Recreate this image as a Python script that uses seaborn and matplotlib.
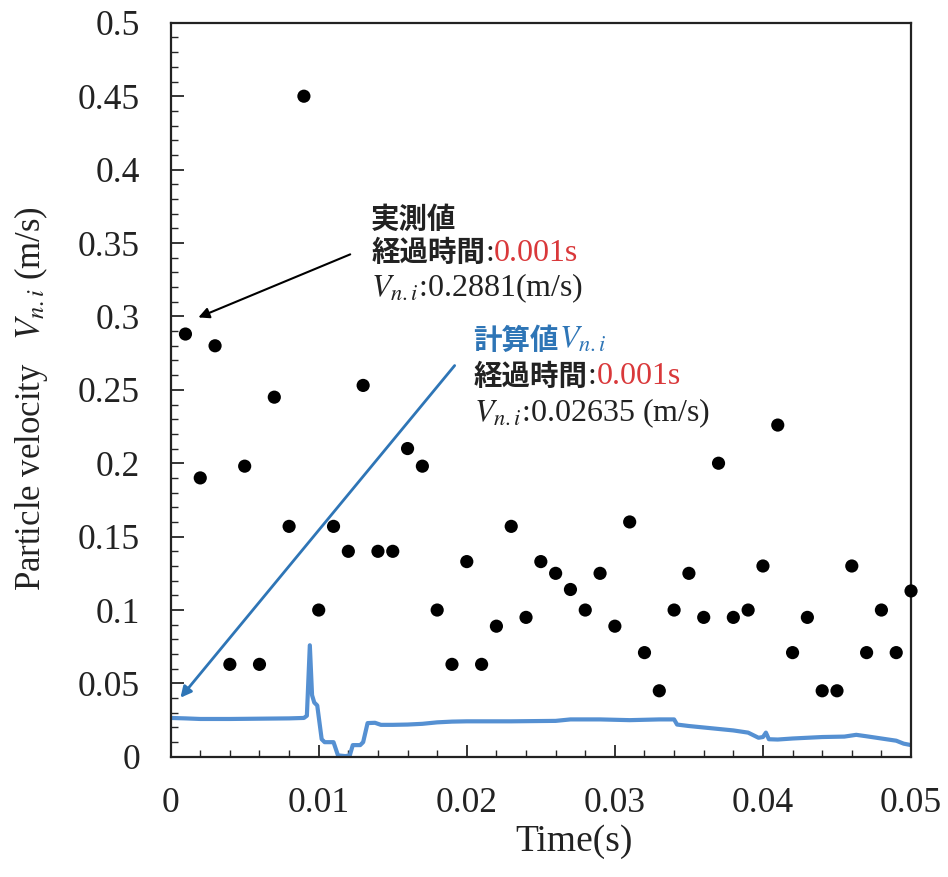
import numpy as np
import pandas as pd
import matplotlib
matplotlib.use("Agg")
import matplotlib.pyplot as plt
import seaborn as sns
from matplotlib.ticker import MultipleLocator, FuncFormatter

# measured particle velocity (black dots), every 1 ms
meas_t = [0.001, 0.002, 0.003, 0.004, 0.005, 0.006, 0.007, 0.008, 0.009, 0.010,
          0.011, 0.012, 0.013, 0.014, 0.015, 0.016, 0.017, 0.018, 0.019, 0.020,
          0.021, 0.022, 0.023, 0.024, 0.025, 0.026, 0.027, 0.028, 0.029, 0.030,
          0.031, 0.032, 0.033, 0.034, 0.035, 0.036, 0.037, 0.038, 0.039, 0.040,
          0.041, 0.042, 0.043, 0.044, 0.045, 0.046, 0.047, 0.048, 0.049, 0.050]
meas_v = [0.288, 0.190, 0.280, 0.063, 0.198, 0.063, 0.245, 0.157, 0.450, 0.100,
          0.157, 0.140, 0.253, 0.140, 0.140, 0.210, 0.198, 0.100, 0.063, 0.133,
          0.063, 0.089, 0.157, 0.095, 0.133, 0.125, 0.114, 0.100, 0.125, 0.089,
          0.160, 0.071, 0.045, 0.100, 0.125, 0.095, 0.200, 0.095, 0.100, 0.130,
          0.226, 0.071, 0.095, 0.045, 0.045, 0.130, 0.071, 0.100, 0.071, 0.113]

# calculated velocity (blue line)
calc_t = [0.0000, 0.0010, 0.0020, 0.0040, 0.0060, 0.0080, 0.0090, 0.0092, 0.0094,
          0.00955, 0.0097, 0.0099, 0.0102, 0.0104, 0.0110, 0.0113, 0.0118, 0.0121,
          0.0123, 0.0128, 0.0130, 0.0133, 0.0138, 0.0142, 0.0150, 0.0160, 0.0170,
          0.0180, 0.0190, 0.0200, 0.0230, 0.0260, 0.0270, 0.0290, 0.0310, 0.0330,
          0.0340, 0.0342, 0.0350, 0.0370, 0.0380, 0.0390, 0.0397, 0.0400, 0.0402,
          0.0404, 0.0410, 0.0420, 0.0440, 0.0455, 0.0463, 0.0470, 0.0480, 0.0490,
          0.0495, 0.0500]
calc_v = [0.0265, 0.0262, 0.0258, 0.0258, 0.0260, 0.0262, 0.0265, 0.0280, 0.0760,
          0.0420, 0.0370, 0.0350, 0.0120, 0.0100, 0.0100, 0.0010, 0.0005, 0.0010,
          0.0080, 0.0080, 0.0100, 0.0230, 0.0232, 0.0218, 0.0218, 0.0220, 0.0225,
          0.0235, 0.0240, 0.0242, 0.0242, 0.0245, 0.0255, 0.0255, 0.0250, 0.0255,
          0.0255, 0.0220, 0.0210, 0.0190, 0.0180, 0.0165, 0.0130, 0.0135, 0.0165,
          0.0120, 0.0118, 0.0125, 0.0135, 0.0138, 0.0150, 0.0140, 0.0125, 0.0110,
          0.0090, 0.0080]

meas = pd.DataFrame({"t": meas_t, "v": meas_v})
calc = pd.DataFrame({"t": calc_t, "v": calc_v})

sns.set_style("ticks")
plt.rcParams["font.family"] = ["Liberation Serif", "Noto Sans CJK JP"]
plt.rcParams["mathtext.fontset"] = "stix"

BLUE = "#5590d2"
DBLUE = "#2e75b6"
RED = "#d9383a"
JP = ["Noto Sans CJK JP", "DejaVu Sans"]

fig = plt.figure(figsize=(9.48, 8.77), dpi=100)
ax = fig.add_axes([0.180, 0.137, 0.781, 0.837])

sns.lineplot(data=calc, x="t", y="v", ax=ax, color=BLUE, lw=3,
             sort=False, estimator=None)
sns.scatterplot(data=meas, x="t", y="v", ax=ax, color="black", s=90,
                edgecolor="none", clip_on=False, zorder=3)

ax.set_xlim(0, 0.05)
ax.set_ylim(0, 0.5)
ax.xaxis.set_major_locator(MultipleLocator(0.01))
ax.xaxis.set_minor_locator(MultipleLocator(0.002))
ax.yaxis.set_major_locator(MultipleLocator(0.05))
ax.yaxis.set_minor_locator(MultipleLocator(0.01))
fmt = FuncFormatter(lambda v, p: f"{v:g}")
ax.xaxis.set_major_formatter(fmt)
ax.yaxis.set_major_formatter(fmt)
ax.tick_params(which="major", direction="in", length=9, width=1.3, labelsize=25.5,
               top=False, right=False, labelcolor="#222222")
ax.tick_params(axis="y", which="major", pad=22)
ax.tick_params(axis="x", which="major", pad=22)
ax.tick_params(which="minor", direction="in", length=5, width=1.0,
               top=False, right=False)
for s in ax.spines.values():
    s.set_linewidth(1.6)
    s.set_color("#222222")

ax.set_xlabel("Time(s)", fontsize=27, color="#222222")
ax.set_ylabel(r"Particle velocity  $\;V_{n.i}$ (m/s)", fontsize=25,
              color="#222222")
ax.xaxis.set_label_coords(0.545, -0.092)
ax.yaxis.set_label_coords(-0.163, 0.488)

fs_jp = 20.5
fs = 23

# measured annotation
ax.annotate("", xy=(0.0017, 0.2986), xytext=(0.0123, 0.343),
            arrowprops=dict(arrowstyle="-|>", color="black", lw=1.5,
                            mutation_scale=16))
ax.text(0.01355, 0.3655, "実測値", fontsize=fs_jp, va="center", ha="left",
        fontweight="bold", family=JP, color="#222222")
t1 = ax.text(0.01355, 0.343, "経過時間", fontsize=fs_jp, va="center", ha="left",
             fontweight="bold", family=JP, color="#222222")
c1 = ax.annotate(":", xy=(1, 0.5), xycoords=t1, fontsize=fs, va="center",
                 ha="left", color="#222222")
ax.annotate("0.001s", xy=(1, 0.5), xycoords=c1, fontsize=fs, va="center",
            ha="left", color=RED)
ax.text(0.01355, 0.319, r"$V_{n.i}$:0.2881(m/s)", fontsize=fs, va="center",
        ha="left", color="#222222")

# calculated annotation
ax.annotate("", xy=(0.00054, 0.0388), xytext=(0.0193, 0.268),
            arrowprops=dict(arrowstyle="-|>", color=DBLUE, lw=2,
                            mutation_scale=16))
k2 = ax.text(0.02046, 0.2835, "計算値", fontsize=fs_jp, va="center",
             ha="left", color=DBLUE, fontweight="bold", family=JP)
ax.annotate(r"$V_{n.i}$", xy=(1, 0.5), xycoords=k2, fontsize=fs, va="center",
            ha="left", color=DBLUE)
t2 = ax.text(0.02046, 0.259, "経過時間", fontsize=fs_jp, va="center", ha="left",
             fontweight="bold", family=JP, color="#222222")
c2 = ax.annotate(":", xy=(1, 0.5), xycoords=t2, fontsize=fs, va="center",
                 ha="left", color="#222222")
ax.annotate("0.001s", xy=(1, 0.5), xycoords=c2, fontsize=fs, va="center",
            ha="left", color=RED)
ax.text(0.02046, 0.234, r"$V_{n.i}$:0.02635 (m/s)", fontsize=fs, va="center",
        ha="left", color="#222222")

fig.savefig("out.png", dpi=100)
